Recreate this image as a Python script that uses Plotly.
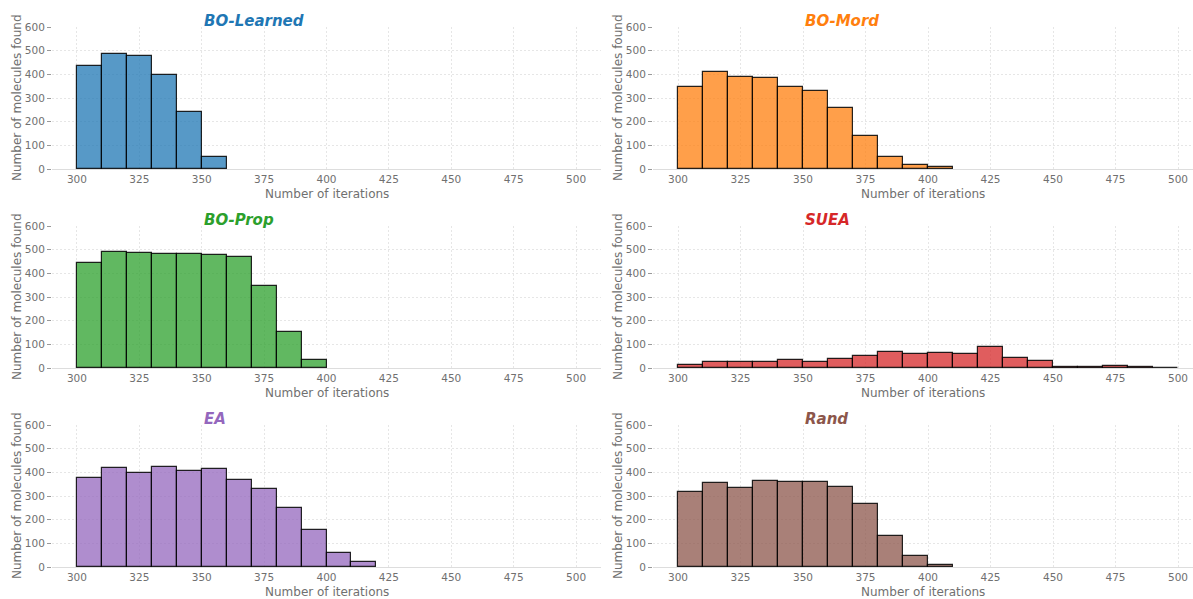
import plotly.graph_objects as go

# ---- data ----
bin_width = 10
bin_starts = [300, 310, 320, 330, 340, 350, 360, 370, 380, 390,
              400, 410, 420, 430, 440, 450, 460, 470, 480, 490]

names = ["BO-Learned", "BO-Mord", "BO-Prop", "SUEA", "EA", "Rand"]
colors = ["#1f77b4", "#ff7f0e", "#2ca02c", "#d62728", "#9467bd", "#8c564b"]

bo_learned = [435, 488, 477, 399, 241, 52]
bo_mord = [348, 409, 390, 385, 348, 331, 258, 140, 49, 15, 10]
bo_prop = [445, 490, 486, 482, 482, 476, 468, 347, 152, 34]
suea = [14, 24, 27, 27, 35, 27, 36, 52, 68, 61, 65, 60, 87, 44, 28, 3, 3, 7, 3, 1]
ea = [377, 419, 396, 422, 405, 412, 368, 330, 250, 157, 58, 20]
rand = [315, 356, 334, 365, 361, 358, 340, 268, 133, 48, 7]

series = [bo_learned, bo_mord, bo_prop, suea, ea, rand]

x_ticks = [300, 325, 350, 375, 400, 425, 450, 475, 500]
y_ticks = [0, 100, 200, 300, 400, 500, 600]

# ---- layout geometry (pixels -> paper fractions) ----
W, H = 1193, 599
col_px = [(52, 601), (653, 1193)]
row_px = [(27, 169), (226, 368), (425, 567)]
x_ranges = [[290, 510], [290, 506]]


def hex_rgba(h, a):
    h = h.lstrip("#")
    return "rgba(%d,%d,%d,%.2f)" % (int(h[0:2], 16), int(h[2:4], 16), int(h[4:6], 16), a)


fig = go.Figure()
font_family = "DejaVu Sans"
tick_color = "#707070"
layout = dict(
    width=W, height=H,
    margin=dict(l=0, r=0, t=0, b=0),
    paper_bgcolor="white", plot_bgcolor="white",
    showlegend=False, bargap=0,
    font=dict(family=font_family, color=tick_color, size=10),
)
annotations = []

for i, (name, col, vals) in enumerate(zip(names, colors, series)):
    r, c = divmod(i, 2)
    idx = i + 1
    xa = "x" if idx == 1 else "x%d" % idx
    ya = "y" if idx == 1 else "y%d" % idx
    fig.add_trace(go.Bar(
        x=bin_starts[:len(vals)], y=vals, width=bin_width, offset=0,
        marker=dict(color=hex_rgba(col, 0.75),
                    line=dict(color="rgba(0,0,0,0.85)", width=1.2)),
        xaxis=xa, yaxis=ya, hoverinfo="x+y",
    ))
    x0, x1 = col_px[c]
    y0, y1 = row_px[r]
    layout["xaxis" if idx == 1 else "xaxis%d" % idx] = dict(
        domain=[x0 / W, x1 / W], anchor=ya, range=x_ranges[c],
        tickvals=x_ticks, ticks="", showgrid=True,
        gridcolor="#e6e6e6", griddash="2px,2px", gridwidth=1,
        showline=True, linecolor="#dddddd", linewidth=1,
        zeroline=False, tickfont=dict(size=10.5, color=tick_color),
        automargin=False, fixedrange=True,
    )
    layout["yaxis" if idx == 1 else "yaxis%d" % idx] = dict(
        domain=[1 - y1 / H, 1 - y0 / H], anchor=xa, range=[0, 600],
        tickvals=y_ticks, ticks="outside", ticklen=4, tickcolor="#999999",
        showgrid=True, gridcolor="#e6e6e6", griddash="2px,2px", gridwidth=1,
        showline=False, zeroline=False,
        tickfont=dict(size=10.5, color=tick_color),
        automargin=False, fixedrange=True,
    )
    # panel title
    annotations.append(dict(
        text="<b><i>%s</i></b>" % name, x=350, y=1 - (y0 - 6) / H,
        xref=xa, yref="paper",
        xanchor="left", yanchor="middle", showarrow=False,
        font=dict(size=15, color=col, family=font_family),
    ))
    # x axis title
    annotations.append(dict(
        text="Number of iterations", x=((x0 + min(x1, x0 + 549)) / 2) / W,
        y=1 - (y1 + 25) / H, xref="paper", yref="paper",
        xanchor="center", yanchor="middle", showarrow=False,
        font=dict(size=12, color=tick_color, family=font_family),
    ))
    # y axis title
    annotations.append(dict(
        text="Number of molecules found", x=(x0 - 35) / W,
        y=1 - ((y0 + y1) / 2) / H, xref="paper", yref="paper",
        xanchor="center", yanchor="middle", showarrow=False, textangle=-90,
        font=dict(size=12, color=tick_color, family=font_family),
    ))

layout["annotations"] = annotations
fig.update_layout(**layout)
fig.write_html("out.html", config={"displayModeBar": False},
               post_script="document.body.style.margin='0';")
